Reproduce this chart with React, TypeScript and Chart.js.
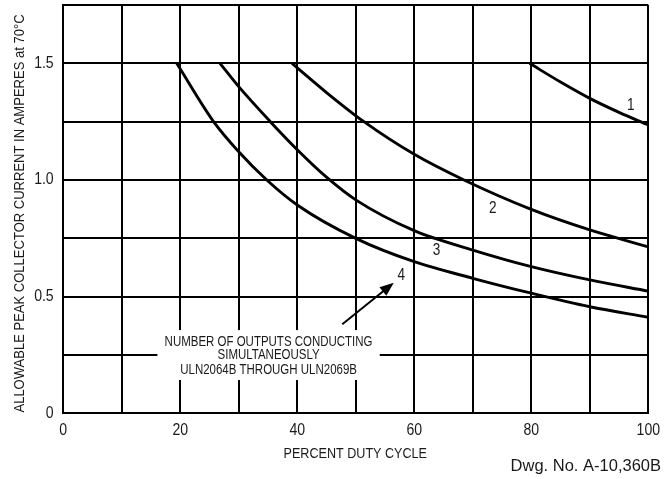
import React, { useEffect, useRef } from "react";
import { Chart, registerables } from "chart.js";

Chart.register(...registerables);

// ---- data ----
const curve1X = [79.7, 85, 90, 95, 100];
const curve1Y = [1.5, 1.42, 1.35, 1.29, 1.236];
const curve2X = [39.1, 45, 51.4, 60, 68.5, 80, 90, 100];
const curve2Y = [1.5, 1.375, 1.25, 1.11, 1.0, 0.874, 0.786, 0.714];
const curve3X = [26.8, 30, 35.4, 40, 45.1, 50, 60, 70, 80, 90, 100];
const curve3Y = [1.5, 1.4, 1.25, 1.13, 1.01, 0.915, 0.783, 0.7, 0.629, 0.572, 0.524];
const curve4X = [19.4, 25.7, 30, 34.8, 40, 50, 60, 70, 80, 90, 100];
const curve4Y = [1.5, 1.25, 1.121, 1.0, 0.893, 0.75, 0.65, 0.579, 0.515, 0.457, 0.412];

const curveLabels = ["1", "2", "3", "4"];
const curveLabelX = [97.0, 73.4, 63.8, 57.8];
const curveLabelY = [1.321, 0.879, 0.697, 0.59];

const xTickValues = [0, 20, 40, 60, 80, 100];
const xTickLabels = ["0", "20", "40", "60", "80", "100"];
const yTickValues = [0, 0.5, 1.0, 1.5];
const yTickLabels = ["0", "0.5", "1.0", "1.5"];

const noteLines = [
  "NUMBER OF OUTPUTS CONDUCTING",
  "SIMULTANEOUSLY",
  "ULN2064B THROUGH ULN2069B",
];
const noteCenterX = 35.1;
const noteLineY = [0.307, 0.25, 0.186];
const noteBoxX = [16.1, 54.1];
const noteBoxY = [0.143, 0.357];
const arrowFrom = [47.7, 0.382];
const arrowTo = [56.5, 0.56];

const xTitle = "PERCENT DUTY CYCLE";
const yTitle = "ALLOWABLE PEAK COLLECTOR CURRENT IN AMPERES at 70°C";
const dwgText = "Dwg. No. A-10,360B";

const SANS = "'Liberation Sans', Arial, Helvetica, sans-serif";
const INK = "#1a1a1a";

function toPts(xs: number[], ys: number[]) {
  return xs.map((x, i) => ({ x, y: ys[i] }));
}

function narrowText(
  ctx: CanvasRenderingContext2D,
  text: string,
  x: number,
  y: number,
  size: number,
  sx: number,
  align: CanvasTextAlign
) {
  ctx.save();
  ctx.translate(x, y);
  ctx.scale(sx, 1);
  ctx.font = `${size}px ${SANS}`;
  ctx.textAlign = align;
  ctx.textBaseline = "middle";
  ctx.fillText(text, 0, 0);
  ctx.restore();
}

const overlayPlugin = {
  id: "overlay",
  afterDraw(chart: any) {
    const ctx = chart.ctx as CanvasRenderingContext2D;
    const xs = chart.scales.x;
    const ys = chart.scales.y;
    const area = chart.chartArea;
    ctx.save();
    ctx.fillStyle = INK;

    // tick labels
    xTickValues.forEach((v, i) => {
      narrowText(ctx, xTickLabels[i], xs.getPixelForValue(v), area.bottom + 17, 16, 0.88, "center");
    });
    yTickValues.forEach((v, i) => {
      narrowText(ctx, yTickLabels[i], area.left - 9.5, ys.getPixelForValue(v), 16, 0.88, "right");
    });

    // curve labels
    curveLabels.forEach((t, i) => {
      narrowText(ctx, t, xs.getPixelForValue(curveLabelX[i]), ys.getPixelForValue(curveLabelY[i]), 16, 0.85, "center");
    });

    // note box
    const bx0 = xs.getPixelForValue(noteBoxX[0]);
    const bx1 = xs.getPixelForValue(noteBoxX[1]);
    const by0 = ys.getPixelForValue(noteBoxY[1]);
    const by1 = ys.getPixelForValue(noteBoxY[0]);
    ctx.fillStyle = "#ffffff";
    ctx.fillRect(bx0, by0, bx1 - bx0, by1 - by0);
    ctx.fillStyle = INK;
    noteLines.forEach((t, i) => {
      narrowText(ctx, t, xs.getPixelForValue(noteCenterX), ys.getPixelForValue(noteLineY[i]), 14, 0.82, "center");
    });

    // arrow
    const ax0 = xs.getPixelForValue(arrowFrom[0]);
    const ay0 = ys.getPixelForValue(arrowFrom[1]);
    const ax1 = xs.getPixelForValue(arrowTo[0]);
    const ay1 = ys.getPixelForValue(arrowTo[1]);
    const ang = Math.atan2(ay1 - ay0, ax1 - ax0);
    const headLen = 14;
    const headW = 5.5;
    ctx.strokeStyle = "#000";
    ctx.lineWidth = 2;
    ctx.beginPath();
    ctx.moveTo(ax0, ay0);
    ctx.lineTo(ax1 - Math.cos(ang) * headLen * 0.8, ay1 - Math.sin(ang) * headLen * 0.8);
    ctx.stroke();
    ctx.fillStyle = "#000";
    ctx.beginPath();
    ctx.moveTo(ax1, ay1);
    ctx.lineTo(
      ax1 - Math.cos(ang) * headLen - Math.sin(ang) * headW,
      ay1 - Math.sin(ang) * headLen + Math.cos(ang) * headW
    );
    ctx.lineTo(
      ax1 - Math.cos(ang) * headLen + Math.sin(ang) * headW,
      ay1 - Math.sin(ang) * headLen - Math.cos(ang) * headW
    );
    ctx.closePath();
    ctx.fill();

    // axis titles
    ctx.fillStyle = INK;
    narrowText(ctx, xTitle, (area.left + area.right) / 2 - 0.5, 454, 15, 0.84, "center");

    ctx.save();
    ctx.translate(20, 213.5);
    ctx.rotate(-Math.PI / 2);
    narrowText(ctx, yTitle, 0, 0, 14, 0.93, "center");
    ctx.restore();

    ctx.font = `16.5px ${SANS}`;
    ctx.textAlign = "right";
    ctx.textBaseline = "middle";
    ctx.fillText(dwgText, 661, 466);
    ctx.restore();
  },
};

export default function App() {
  const ref = useRef<HTMLCanvasElement | null>(null);
  useEffect(() => {
    if (!ref.current) return;
    const line = (xs: number[], ys: number[]) => ({
      data: toPts(xs, ys),
      borderColor: "#000",
      borderWidth: 2.9,
      pointRadius: 0,
      fill: false,
      cubicInterpolationMode: "monotone" as const,
    });
    const zeroPad = (s: any) => {
      s.paddingLeft = 0;
      s.paddingRight = 0;
      s.paddingTop = 0;
      s.paddingBottom = 0;
    };
    const chart = new Chart(ref.current, {
      type: "line",
      data: {
        datasets: [
          line(curve1X, curve1Y),
          line(curve2X, curve2Y),
          line(curve3X, curve3Y),
          line(curve4X, curve4Y),
        ],
      },
      options: {
        animation: false,
        responsive: false,
        layout: { padding: { top: 5, right: 15.7, left: 0, bottom: 0 } },
        plugins: { legend: { display: false }, tooltip: { enabled: false } },
        scales: {
          x: {
            type: "linear",
            min: 0,
            max: 100,
            afterFit: (s: any) => {
              s.height = 65.6;
              zeroPad(s);
            },
            grid: { color: "#000", lineWidth: 2, drawTicks: false },
            border: { display: true, color: "#000", width: 2 },
            ticks: { stepSize: 10, display: false, autoSkip: false },
          },
          y: {
            type: "linear",
            min: 0,
            max: 1.75,
            afterFit: (s: any) => {
              s.width = 63.2;
              zeroPad(s);
            },
            grid: { color: "#000", lineWidth: 2, drawTicks: false },
            border: { display: true, color: "#000", width: 2 },
            ticks: { stepSize: 0.25, display: false, autoSkip: false },
          },
        },
      },
      plugins: [overlayPlugin],
    });
    return () => chart.destroy();
  }, []);
  return (
    <div style={{ position: "absolute", left: 0, top: 0, width: 664, height: 479, background: "#fff" }}>
      <canvas ref={ref} width={664} height={479} style={{ width: 664, height: 479 }} />
    </div>
  );
}
